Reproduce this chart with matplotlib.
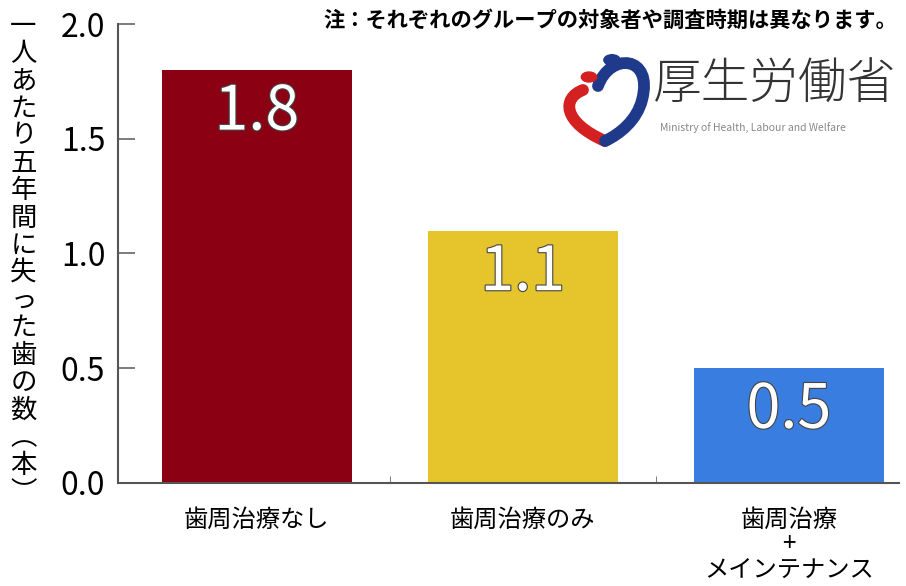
import matplotlib.pyplot as plt
import matplotlib.patheffects as pe
from matplotlib.patches import Circle, PathPatch
from matplotlib.path import Path

plt.rcParams['font.family'] = ['Noto Sans CJK JP', 'DejaVu Sans']

# data
categories = ['歯周治療なし', '歯周治療のみ', '歯周治療\n+\nメインテナンス']
values = [1.8, 1.1, 0.5]
value_labels = ['1.8', '1.1', '0.5']
colors = ['#8b0013', '#e6c52c', '#3a7de0']
yticks = [0.0, 0.5, 1.0, 1.5, 2.0]
ylabel = '一人あたり五年間に失った歯の数︵本︶'
note = '注：それぞれのグループの対象者や調査時期は異なります。'

W, H = 906, 586
fig = plt.figure(figsize=(W / 100, H / 100), dpi=100)
ax = fig.add_axes([0.130, 0.176, 0.862, 0.783])

x = range(len(categories))
bars = ax.bar(x, values, width=0.714, color=colors)

# values inside the bars
for b, lab in zip(bars, value_labels):
    ax.text(b.get_x() + b.get_width() / 2, b.get_height() - 0.185, lab,
            ha='center', va='center', fontsize=44, color='white',
            path_effects=[pe.withStroke(linewidth=1.6, foreground='#444444')])

ax.set_xlim(-0.523, 2.413)
ax.set_ylim(0, 2.0)
ax.set_yticks(yticks)
ax.set_yticklabels(['%.1f' % t for t in yticks], fontsize=23)
ax.tick_params(axis='y', direction='in', length=12, width=1.2, color='#666666', pad=9)
ax.set_xticks(list(x))
ax.set_xticklabels(categories, fontsize=17.5, linespacing=0.95)
ax.tick_params(axis='x', length=0, pad=17)
ax.set_xticks([0.5, 1.5], minor=True)
ax.tick_params(axis='x', which='minor', direction='in', length=5, color='#666666')

for s in ['top', 'right']:
    ax.spines[s].set_visible(False)
for s in ['left', 'bottom']:
    ax.spines[s].set_color('#555555')
    ax.spines[s].set_linewidth(1.5)

# vertical y label
fig.text(0.026, 0.978, '\n'.join(ylabel), ha='center', va='top',
         fontsize=19, linespacing=1.02)

fig.text(0.99, 0.965, note, ha='right', va='center', fontsize=15.3, weight='bold')


# logo (two figures forming a heart)
def fp(pts):
    return [(px / W, 1 - py / H) for px, py in pts]


red = Path(fp([(583, 90), (562, 98), (562, 122), (605, 141)]),
           [Path.MOVETO, Path.CURVE4, Path.CURVE4, Path.CURVE4])
blue = Path(fp([(598, 86), (610, 52), (654, 55), (642, 100),
                (637, 120), (620, 134), (605, 141)]),
            [Path.MOVETO, Path.CURVE4, Path.CURVE4, Path.CURVE4,
             Path.CURVE4, Path.CURVE4, Path.CURVE4])
fig.patches.append(PathPatch(red, transform=fig.transFigure, fill=False,
                             edgecolor='#d42020', lw=8.5, capstyle='round'))
fig.patches.append(PathPatch(blue, transform=fig.transFigure, fill=False,
                             edgecolor='#1f3a8a', lw=8.5, capstyle='round'))
fig.patches.append(Circle(fp([(589, 77)])[0], 0.0085, transform=fig.transFigure,
                          color='#d42020'))
fig.patches.append(Circle(fp([(612, 60)])[0], 0.009, transform=fig.transFigure,
                          color='#1f3a8a'))
fig.text(0.721, 0.855, '厚生労働省', ha='left', va='center', fontsize=35,
         weight='light', color='#333333')
fig.text(0.728, 0.782, 'Ministry of Health, Labour and Welfare', ha='left',
         va='center', fontsize=7.5, color='#888888')

fig.savefig('out.png', dpi=100)
